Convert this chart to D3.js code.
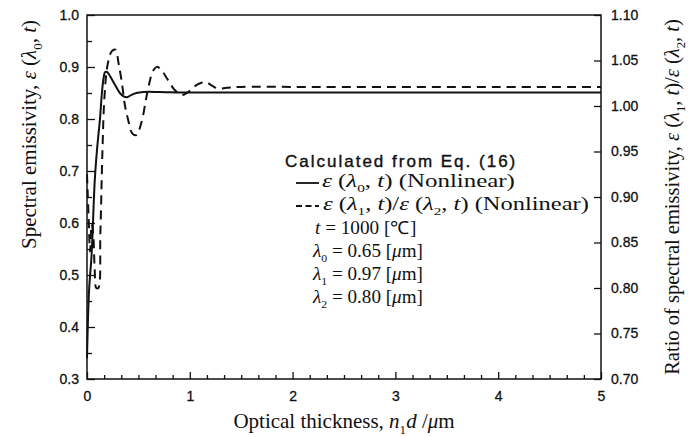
<!DOCTYPE html>
<html>
<head>
<meta charset="utf-8">
<script src="https://cdn.jsdelivr.net/npm/d3@7"></script>
<style>
  body { margin: 0; background: #fff; }
  svg { display: block; }
  .tick text { font-family: "Liberation Sans", Arial, sans-serif; font-size: 14px; fill: #111; stroke: #111; stroke-width: 0.3px; }
  .serif { font-family: "Liberation Serif", "Times New Roman", serif; fill: #111; }
</style>
</head>
<body>
<svg id="chart"></svg>
<script>
// optical thickness n1d (um) and spectral emissivity e(l0,t), left axis
const thicknessSolid = [0, 0.02, 0.045, 0.075, 0.097, 0.126, 0.145, 0.16, 0.175, 0.19, 0.21, 0.24, 0.28, 0.32, 0.36, 0.39, 0.43, 0.48, 0.55, 0.7, 0.9, 1.0, 2, 3, 4, 5]
const emissivitySolid = [0.34, 0.47, 0.54, 0.68, 0.74, 0.80, 0.85, 0.877, 0.89, 0.891, 0.887, 0.877, 0.863, 0.85, 0.843, 0.842, 0.846, 0.85, 0.852, 0.852, 0.851, 0.851, 0.851, 0.851, 0.851, 0.851]

// ratio e(l1,t)/e(l2,t), right axis
const thicknessDashed = [0, 0.015, 0.03, 0.045, 0.06, 0.075, 0.09, 0.11, 0.13, 0.15, 0.17, 0.2, 0.24, 0.275, 0.31, 0.34, 0.37, 0.4, 0.44, 0.48, 0.53, 0.57, 0.6, 0.64, 0.68, 0.72, 0.78, 0.85, 0.92, 0.98, 1.04, 1.1, 1.16, 1.22, 1.28, 1.36, 1.5, 2, 3, 4, 5]
const ratioDashed = [0.925, 0.88, 0.84, 0.87, 0.86, 0.82, 0.80, 0.80, 0.86, 0.95, 1.01, 1.045, 1.06, 1.062, 1.045, 1.025, 1.0, 0.985, 0.97, 0.968, 0.982, 1.005, 1.022, 1.038, 1.043, 1.04, 1.03, 1.018, 1.012, 1.015, 1.021, 1.025, 1.026, 1.022, 1.019, 1.02, 1.021, 1.021, 1.021, 1.021, 1.021]

const xTicks = [0, 1, 2, 3, 4, 5]
const leftTicks = [0.3, 0.4, 0.5, 0.6, 0.7, 0.8, 0.9, 1.0]
const rightTicks = [0.70, 0.75, 0.80, 0.85, 0.90, 0.95, 1.00, 1.05, 1.10]

const width = 688, height = 437
const margin = { top: 15, right: 87, bottom: 58, left: 87 }

const svg = d3.select('#chart')
    .attr('width', width)
    .attr('height', height)

const x = d3.scaleLinear().domain([0, 5]).range([margin.left, width - margin.right])
const yLeft = d3.scaleLinear().domain([0.3, 1.0]).range([height - margin.bottom, margin.top])
const yRight = d3.scaleLinear().domain([0.7, 1.1]).range([height - margin.bottom, margin.top])

const plotBottom = height - margin.bottom
const plotRight = width - margin.right

// minor ticks: sixths on x, halves on the left axis
const xMinor = d3.range(31).filter(i => i % 6 !== 0).map(i => i / 6)
const leftMinor = leftTicks.slice(0, -1).map(v => v + 0.05)

function tidy(g) {
    g.select('.domain').remove()
    g.selectAll('.tick line').attr('stroke', '#111').attr('stroke-width', 1.3)
}

svg.append('g')
    .attr('transform', `translate(0, ${plotBottom})`)
    .call(d3.axisBottom(x).tickValues(xTicks).tickFormat(d3.format('d')).tickSize(-7).tickPadding(12))
    .call(tidy)

svg.append('g')
    .attr('transform', `translate(0, ${plotBottom})`)
    .call(d3.axisBottom(x).tickValues(xMinor).tickFormat('').tickSize(-4))
    .call(tidy)
    .call(g => g.selectAll('.tick text').remove())

svg.append('g')
    .attr('transform', `translate(${margin.left}, 0)`)
    .call(d3.axisLeft(yLeft).tickValues(leftTicks).tickFormat(d3.format('.1f')).tickSize(-8).tickPadding(8))
    .call(tidy)

svg.append('g')
    .attr('transform', `translate(${margin.left}, 0)`)
    .call(d3.axisLeft(yLeft).tickValues(leftMinor).tickFormat('').tickSize(-5))
    .call(tidy)
    .call(g => g.selectAll('.tick text').remove())

svg.append('g')
    .attr('transform', `translate(${plotRight}, 0)`)
    .call(d3.axisRight(yRight).tickValues(rightTicks).tickFormat(d3.format('.2f')).tickSize(-7).tickPadding(10))
    .call(tidy)

// frame
svg.append('rect')
    .attr('x', margin.left)
    .attr('y', margin.top)
    .attr('width', plotRight - margin.left)
    .attr('height', plotBottom - margin.top)
    .attr('fill', 'none')
    .attr('stroke', '#111')
    .attr('stroke-width', 1.5)

// curves
const solidData = thicknessSolid.map((d, i) => [d, emissivitySolid[i]])
const dashedData = thicknessDashed.map((d, i) => [d, ratioDashed[i]])

svg.append('path')
    .datum(dashedData)
    .attr('fill', 'none')
    .attr('stroke', '#111')
    .attr('stroke-width', 2)
    .attr('stroke-dasharray', '9,6')
    .attr('d', d3.line().x(d => x(d[0])).y(d => yRight(d[1])).curve(d3.curveCatmullRom))

svg.append('path')
    .datum(solidData)
    .attr('fill', 'none')
    .attr('stroke', '#111')
    .attr('stroke-width', 2)
    .attr('d', d3.line().x(d => x(d[0])).y(d => yLeft(d[1])).curve(d3.curveCatmullRom))

// rich text: parts are [text, flags], flags 'i' italic, 's' subscript
function rich(sel, parts, size) {
    let shifted = false
    parts.forEach(([t, f]) => {
        const ts = sel.append('tspan').text(t)
        if (f && f.includes('i')) ts.attr('font-style', 'italic')
        if (f && f.includes('s')) {
            ts.attr('font-size', size * 0.62).attr('dy', size * 0.3)
            shifted = true
        } else if (shifted) {
            ts.attr('dy', -size * 0.3)
            shifted = false
        }
    })
    return sel
}

const eps0 = [['ε', 'i'], [' ('], ['λ', 'i'], ['0', 's'], [', '], ['t', 'i'], [')']]
const eps1 = [['ε', 'i'], [' ('], ['λ', 'i'], ['1', 's'], [', '], ['t', 'i'], [')']]
const eps2 = [['ε', 'i'], [' ('], ['λ', 'i'], ['2', 's'], [', '], ['t', 'i'], [')']]

// axis titles
rich(svg.append('text').attr('class', 'serif').attr('font-size', 21)
    .attr('text-anchor', 'middle').attr('x', 344).attr('y', 428),
    [['Optical thickness, '], ['n', 'i'], ['1', 's'], ['d', 'i'], [' /'], ['μ', 'i'], ['m']], 21)

rich(svg.append('text').attr('class', 'serif').attr('font-size', 21)
    .attr('text-anchor', 'end').attr('transform', 'translate(36, 20) rotate(-90)'),
    [['Spectral emissivity, ']].concat(eps0), 21)

rich(svg.append('text').attr('class', 'serif').attr('font-size', 20.5)
    .attr('text-anchor', 'middle').attr('transform', `translate(679, ${(margin.top + plotBottom) / 2}) rotate(-90)`),
    [['Ratio of spectral emissivity, ']].concat(eps1, [['/']], eps2), 20.5)

// legend
svg.append('text')
    .attr('x', 285).attr('y', 167)
    .attr('font-family', '"Liberation Sans", Arial, sans-serif')
    .attr('font-size', 17)
    .attr('letter-spacing', 2)
    .attr('fill', '#111')
    .attr('stroke', '#111')
    .attr('stroke-width', 0.4)
    .text('Calculated from Eq. (16)')

svg.append('line').attr('x1', 296).attr('x2', 319).attr('y1', 183).attr('y2', 183)
    .attr('stroke', '#111').attr('stroke-width', 1.8)
svg.append('line').attr('x1', 296).attr('x2', 319).attr('y1', 206).attr('y2', 206)
    .attr('stroke', '#111').attr('stroke-width', 1.8).attr('stroke-dasharray', '6,3.5')

// legend rows, stretched sideways to the width they take in the figure
const lsize = 18
const legendRows = [
    { x: 322, y: 187, w: 193, parts: eps0.concat([[' (Nonlinear)']]) },
    { x: 323, y: 210, w: 266, parts: eps1.concat([['/']], eps2, [[' (Nonlinear)']]) },
    { x: 315, y: 234, w: 101, parts: [['t', 'i'], [' = 1000 [℃]']] },
    { x: 313, y: 257, w: 111, parts: [['λ', 'i'], ['0', 's'], [' = 0.65 ['], ['μ', 'i'], ['m]']] },
    { x: 313, y: 280, w: 111, parts: [['λ', 'i'], ['1', 's'], [' = 0.97 ['], ['μ', 'i'], ['m]']] },
    { x: 313, y: 303, w: 111, parts: [['λ', 'i'], ['2', 's'], [' = 0.80 ['], ['μ', 'i'], ['m]']] }
]

legendRows.forEach(r => {
    const g = svg.append('g')
    const t = rich(g.append('text').attr('class', 'serif').attr('font-size', lsize), r.parts, lsize)
    const bw = t.node().getBBox().width
    g.attr('transform', `translate(${r.x}, ${r.y}) scale(${r.w / bw}, 1)`)
})
</script>
</body>
</html>
